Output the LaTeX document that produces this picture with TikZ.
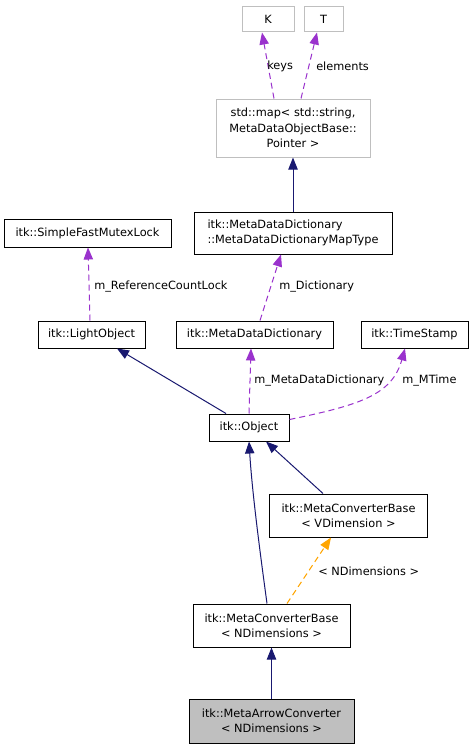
\documentclass[tikz,border=0pt]{standalone}
\usepackage{fontspec}
\setmainfont{DejaVu Sans}
\usetikzlibrary{arrows.meta,calc}
\definecolor{inhc}{HTML}{191970}
\definecolor{usec}{HTML}{9A32CD}
\definecolor{tmplc}{HTML}{FFA500}
\definecolor{greyb}{HTML}{BFBFBF}
\definecolor{selfill}{HTML}{BFBFBF}
\begin{document}
\begin{tikzpicture}[x=0.75pt,y=-0.75pt,
  box/.style={draw=black,line width=0.75pt,fill=white,inner sep=0pt,
    font=\fontsize{8.5}{11.5}\selectfont,align=center},
  gbox/.style={box,draw=greyb},
  sz/.style 2 args={minimum width=#1*0.75pt,minimum height=#2*0.75pt},
  lbl/.style={anchor=west,inner sep=0pt,font=\fontsize{8.5}{10}\selectfont},
  tip/.style={-{Triangle[length=9pt,width=7pt]}},
  inh/.style={draw=inhc,line width=0.75pt,tip},
  use/.style={draw=usec,line width=0.75pt,dash pattern=on 4.5pt off 3pt,tip},
  tmpl/.style={draw=tmplc,line width=0.75pt,dash pattern=on 4.5pt off 3pt,tip}
]
\path[use as bounding box,fill=white] (0,0) rectangle (473,749);

% nodes
\node[gbox,sz={52}{25}] (K) at (268,19.5) {K};
\node[gbox,sz={39}{25}] (T) at (323.5,19.5) {T};
\node[gbox,sz={154}{58}] (map) at (293,128) {std::map< std::string,\\MetaDataObjectBase::\\Pointer >};
\node[box,sz={198}{42},align=left] (mapt) at (293,233) {itk::MetaDataDictionary\\::MetaDataDictionaryMapType};
\node[box,sz={167}{28}] (sfml) at (87.5,233) {itk::SimpleFastMutexLock};
\node[box,sz={107}{27}] (lo) at (91.5,334.5) {itk::LightObject};
\node[box,sz={157}{27}] (mdd) at (254.5,334.5) {itk::MetaDataDictionary};
\node[box,sz={107}{27}] (ts) at (414.5,334.5) {itk::TimeStamp};
\node[box,sz={80}{27}] (obj) at (249,427.5) {itk::Object};
\node[box,sz={158}{43}] (mcbv) at (348.5,515.5) {itk::MetaConverterBase\\< VDimension >};
\node[box,sz={157}{43}] (mcbn) at (271.5,625.5) {itk::MetaConverterBase\\< NDimensions >};
\node[box,sz={165}{44},fill=selfill] (mac) at (271.5,721) {itk::MetaArrowConverter\\< NDimensions >};

% edges
\draw[use] ($(map.north)+(-19,0)$) -- ($(K.south)+(-6,0)$);
\node[lbl] (lkeys) at (267,66) {keys};
\draw[use] ($(map.north)+(8,0)$) -- ($(T.south)+(-6.5,0)$);
\node[lbl] (lelem) at (316,66) {elements};

\draw[inh] (mapt.north) -- (map.south);

\draw[use] ($(lo.north)+(-1.5,0)$) -- ($(sfml.south)+(0.5,0)$);
\node[lbl] (lrcl) at (94,287) {m\_ReferenceCountLock};

\draw[use] ($(mdd.north)+(5.5,0)$) -- ($(mapt.south)+(-12,0)$);
\node[lbl] (ldict) at (279,287) {m\_Dictionary};

\draw[inh] ($(obj.north)+(-23,0)$) -- ($(lo.south)+(25.5,0)$);

\draw[use] (obj.north) -- ($(mdd.south)+(-3.5,0)$);
\node[lbl] (lmdd) at (254,381) {m\_MetaDataDictionary};

\draw[use] ($(obj.east)+(0,-8)$) .. controls (360,405) and (392,395) .. ($(ts.south)+(-9.5,0)$);
\node[lbl] (lmt) at (402,381) {m\_MTime};

\draw[inh] ($(mcbn.north)+(-4.5,0)$) .. controls (259,545) and (252,490) .. (obj.south);
\draw[inh] ($(mcbv.north)+(-25.5,0)$) -- ($(obj.south)+(17,0)$);

\draw[tmpl] ($(mcbn.north)+(15.5,0)$) -- ($(mcbv.south)+(-17.5,0)$);
\node[lbl] (lnd) at (318,571) {< NDimensions >};

\draw[inh] (mac.north) -- (mcbn.south);
\end{tikzpicture}
\end{document}
